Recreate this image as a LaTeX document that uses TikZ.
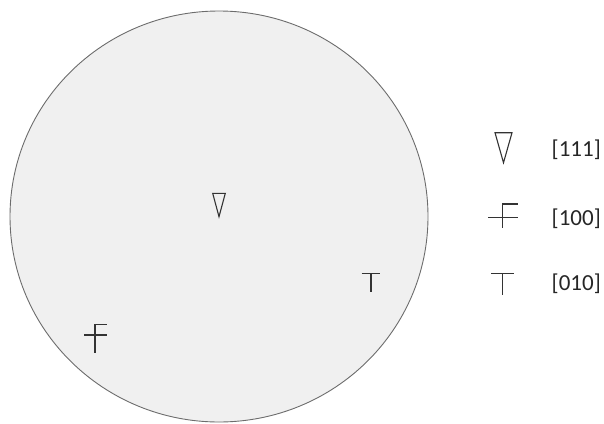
\documentclass[tikz,border=0pt]{standalone}
\usepackage{fontspec}
\setmainfont{Carlito}
\usepackage{tikz}
\usetikzlibrary{positioning}

\begin{document}
\begin{tikzpicture}[
        x=1pt, y=-1pt,
        font=\fontsize{23}{27}\selectfont,
        sphere/.style={draw=gray!85!black, fill=gray!12, line width=0.9pt},
        sym/.style={draw=black!80, line width=1.1pt},
        lbl/.style={anchor=west, inner sep=0pt, text=black!85}
    ]
    \useasboundingbox (0,0) rectangle (604,423);

    % projection circle
    \draw[sphere] (219,216.5) ellipse (209 and 205.5);

    % poles inside the circle
    \coordinate (p111) at (219,193.3);
    \coordinate (p100) at (95,324.7);
    \coordinate (p010) at (371,273.7);
    \draw[sym] (p111) ++(-6.3,0) -- ++(12.6,0) -- ++(-6.3,23.4) -- cycle;
    \draw[sym] (p100) ++(-11,10.3) -- ++(22.7,0);
    \draw[sym] (p100) ++(11.7,0) -- ++(-11.7,0) -- ++(0,28.6);
    \draw[sym] (p010) ++(-9.3,0) -- ++(18.7,0);
    \draw[sym] (p010) -- ++(0,18);

    % legend
    \coordinate (k111) at (503.5,132.7);
    \coordinate (k100) at (502.3,204);
    \coordinate (k010) at (502.7,273.3);
    \draw[sym] (k111) ++(-8.5,0) -- ++(17,0) -- ++(-8.5,30) -- cycle;
    \draw[sym] (k100) ++(-14,13.3) -- ++(29.4,0);
    \draw[sym] (k100) ++(15.4,0) -- ++(-15.4,0) -- ++(0,24.3);
    \draw[sym] (k010) ++(-11.3,0) -- ++(22.6,0);
    \draw[sym] (k010) -- ++(0,21.7);

    \node[lbl] (t111) at (551.5,150) {[111]};
    \node[lbl] (t100) at (551.5,218.3) {[100]};
    \node[lbl] (t010) at (551.5,283.3) {[010]};
\end{tikzpicture}
\end{document}
